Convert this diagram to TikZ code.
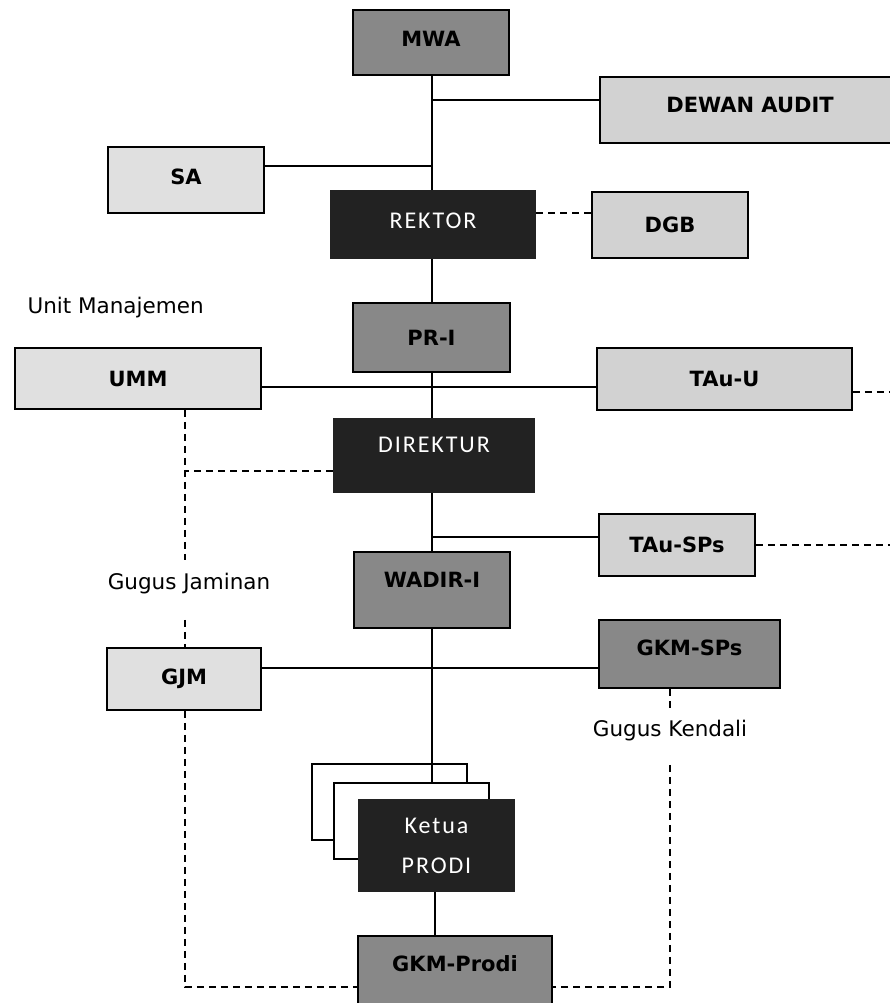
\documentclass[tikz,border=0pt]{standalone}
\usepackage{fontspec}
\setmainfont{DejaVu Sans}
\newfontfamily\calfont{Carlito}[LetterSpace=8]
\newfontfamily\capfont{DejaVu Sans}
\usetikzlibrary{positioning}

\definecolor{midgray}{HTML}{888888}
\definecolor{lightgray}{HTML}{D2D2D2}
\definecolor{palegray}{HTML}{E0E0E0}
\definecolor{inkblack}{HTML}{222222}

\begin{document}
\begin{tikzpicture}[x=1pt,y=-1pt,box/.style={draw=black, line width=1.8pt, inner sep=0pt, align=center, font=\bfseries\fontsize{21}{25}\selectfont},mid/.style={box, fill=midgray},light/.style={box, fill=lightgray},pale/.style={box, fill=palegray},dark/.style={fill=inkblack, text=white, inner sep=0pt, align=center, font=\calfont\fontsize{24}{40}\selectfont},sheet/.style={draw=black, fill=white, line width=1.6pt, minimum width=155, minimum height=76},link/.style={line width=1.8pt},dlink/.style={line width=1.8pt, dash pattern=on 7pt off 5pt},caption/.style={font=\capfont\fontsize{21.5}{26}\selectfont}]
\useasboundingbox (0,0) rectangle (890,1003);
% boxes
\node[mid, minimum width=156, minimum height=65] (mwa) at (431,42.5) {\raisebox{8pt}{MWA}};
\node[light, minimum width=300, minimum height=66] (audit) at (750,110) {\raisebox{10pt}{DEWAN AUDIT}};
\node[pale, minimum width=156, minimum height=66] (sa) at (186,180) {\raisebox{6pt}{SA}};
\node[dark, minimum width=206, minimum height=69] (rektor) at (433,224.5) {\raisebox{8pt}{REKTOR}};
\node[light, minimum width=156, minimum height=66] (dgb) at (670,225) {DGB};
\node[caption, anchor=west] (unit) at (24,308) {Unit Manajemen};
\node[mid, minimum width=157, minimum height=69] (pr) at (431.5,337.5) {PR-I};
\node[pale, minimum width=246, minimum height=61] (umm) at (138,378.5) {UMM};
\node[light, minimum width=255, minimum height=62] (tauu) at (724.5,379) {TAu-U};
\node[dark, minimum width=202, minimum height=75] (dir) at (434,455.5) {\raisebox{22pt}{DIREKTUR}};
\node[light, minimum width=156, minimum height=62] (tausps) at (677,545) {TAu-SPs};
\node[mid, minimum width=156, minimum height=76] (wadir) at (432,590) {\raisebox{20pt}{WADIR-I}};
\node[caption] (gjlabel) at (189,584) {Gugus Jaminan};
\node[mid, minimum width=181, minimum height=68] (gkmsps) at (689.5,654) {\raisebox{12pt}{GKM-SPs}};
\node[pale, minimum width=154, minimum height=62] (gjm) at (184,679) {GJM};
\node[caption] (gklabel) at (670,731) {Gugus Kendali};
\node[sheet] (pageA) at (389.5,802) {};
\node[sheet] (pageB) at (411.5,821) {};
\node[dark, minimum width=157, minimum height=93] (ketua) at (436.5,845.5) {Ketua\\PRODI};
\node[mid, minimum width=194, minimum height=80] (gkmprodi) at (455,976) {\raisebox{24pt}{GKM-Prodi}};
% helper coordinates
\coordinate (axis) at (432,0);
\coordinate (lowAxis) at (435,0);
\coordinate (auditY) at (0,100);
\coordinate (saY) at (0,166);
\coordinate (dgbY) at (0,213);
\coordinate (ummY) at (0,387);
\coordinate (tauuEnd) at (892,392);
\coordinate (dirY) at (0,471);
\coordinate (spsY) at (0,537);
\coordinate (gjmY) at (0,668);
\coordinate (baseY) at (0,987);
\coordinate (gjX) at (185,0);
\coordinate (gkX) at (670,0);
% solid links
\draw[link] (axis |- mwa.south) -- (axis |- rektor.north);
\draw[link] (axis |- rektor.south) -- (axis |- pr.north);
\draw[link] (axis |- pr.south) -- (axis |- dir.north);
\draw[link] (axis |- dir.south) -- (axis |- wadir.north);
\draw[link] (axis |- wadir.south) -- (axis |- pageB.north);
\draw[link] (lowAxis |- ketua.south) -- (lowAxis |- gkmprodi.north);
\draw[link] (axis |- auditY) -- (audit.west |- auditY);
\draw[link] (sa.east |- saY) -- (axis |- saY);
\draw[link] (umm.east |- ummY) -- (tauu.west |- ummY);
\draw[link] (axis |- spsY) -- (tausps.west |- spsY);
\draw[link] (gjm.east |- gjmY) -- (gkmsps.west |- gjmY);
% dashed links
\draw[dlink] (rektor.east |- dgbY) -- (dgb.west |- dgbY);
\draw[dlink] (tauu.east |- tauuEnd) -- (tauuEnd);
\draw[dlink] (tausps.east) -- (tausps.east -| tauuEnd);
\draw[dlink] (dir.west |- dirY) -- (gjX |- dirY);
\draw[dlink] (gjX |- umm.south) -- ([yshift=10pt]gjX |- gjlabel.north);
\draw[dlink] ([yshift=-22pt]gjX |- gjlabel.south) -- (gjX |- gjm.north);
\draw[dlink] (gjX |- gjm.south) -- (gjX |- baseY) -- (gkmprodi.west |- baseY);
\draw[dlink] (gkX |- gkmsps.south) -- ([yshift=8pt]gkX |- gklabel.north);
\draw[dlink] ([yshift=-20pt]gkX |- gklabel.south) -- (gkX |- baseY) -- (gkmprodi.east |- baseY);
\end{tikzpicture}
\end{document}
